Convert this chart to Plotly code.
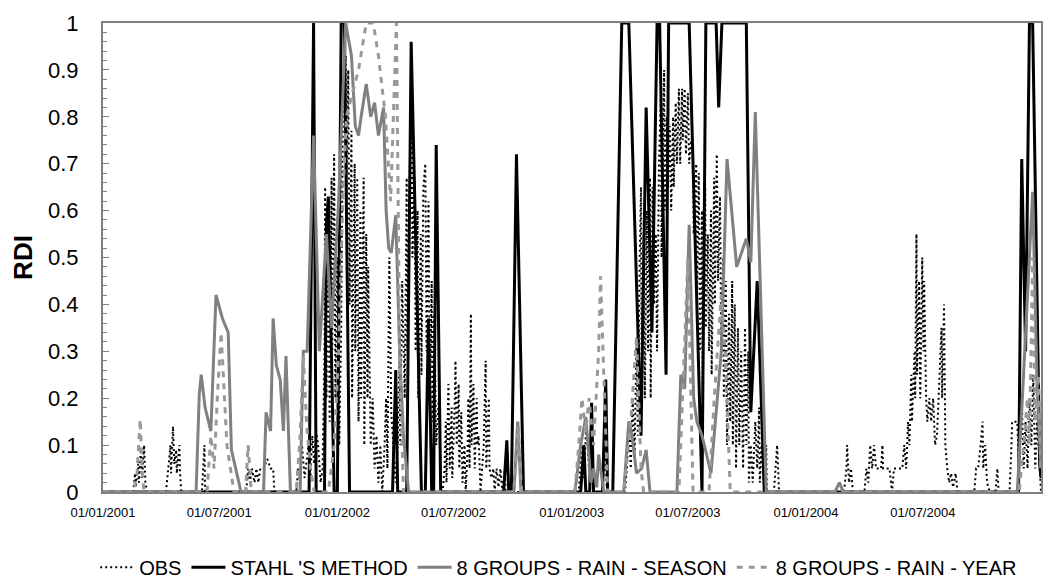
import pandas as pd
import plotly.graph_objects as go

START = "2001-01-01"

# ---- data: day offsets from START and RDI values ----
obs_day = [0, 47, 50, 51, 55, 56, 59, 61, 64, 66, 69,
           98, 101, 105, 106, 109, 111, 114, 115, 119, 120, 122,
           154, 158, 159,
           223, 226, 229, 232, 236, 239, 242, 245, 250, 256, 261, 265, 267,
           301, 304, 307, 310, 314, 317, 320, 323, 326, 329, 332, 335, 339, 342,
           345, 346, 348, 351, 353, 356, 357, 360, 362, 365, 368, 371, 374, 378,
           379, 382, 384, 387, 388, 392, 393, 396, 398, 401, 402, 406, 407, 410,
           412, 413, 417, 420, 423, 426, 429, 432, 435, 438, 441, 443, 446, 449,
           452, 456, 459, 462, 463, 466, 470, 473, 474, 477, 480, 482, 485, 487,
           490, 491, 495, 496, 499, 502, 504, 507, 509, 512, 513, 516, 519, 523,
           526, 529, 532, 534, 535, 538, 540, 543, 544, 548, 549, 551, 554, 555,
           558, 560, 563, 565, 568, 569, 571, 573, 574, 577, 579, 582, 583, 585,
           588, 593, 596, 597, 601, 602, 605, 608, 610, 613, 616, 619, 622, 626, 627,
           741, 746, 749, 753, 757, 761, 764, 778, 782, 785,
           813, 816, 819, 822, 825, 828, 831, 833, 836, 838, 839, 842, 844, 847,
           849, 852, 853, 856, 858, 861, 863, 866, 869, 870, 874, 875, 878, 880,
           883, 885, 888, 889, 892, 894, 897, 899, 902, 903, 906, 908, 911, 913,
           916, 919, 920, 924, 925, 928, 930, 933, 934, 938, 939, 942, 944, 947,
           948, 952, 953, 956, 958, 961, 963, 966, 967, 970, 972, 975, 977, 980,
           981, 984, 986, 989, 991, 994, 997, 1000, 1002, 1005, 1006, 1009, 1012,
           1016, 1019, 1022, 1023, 1026, 1030, 1033, 1034, 1045, 1050, 1053,
           1154, 1158, 1159, 1162, 1165, 1168,
           1186, 1189, 1192, 1195, 1198, 1201, 1204, 1212, 1214, 1215, 1225, 1229,
           1232, 1245, 1248, 1251, 1254, 1256, 1259, 1260, 1264, 1265, 1267, 1268,
           1271, 1273, 1276, 1278, 1279, 1282, 1284, 1287, 1290, 1293, 1296, 1299,
           1303, 1306, 1307, 1310, 1312, 1315, 1318, 1321, 1324, 1328, 1331,
           1357, 1360, 1363, 1367, 1370, 1371, 1374, 1377, 1381, 1390, 1393, 1395,
           1412, 1415, 1416, 1424, 1427, 1431, 1434, 1437, 1440, 1443, 1446, 1449,
           1452, 1455, 1459, 1461]
obs_val = [0, 0, 0.04, 0.01, 0.06, 0.02, 0.09, 0.03, 0.1, 0.02, 0,
           0, 0.04, 0.1, 0.04, 0.14, 0.06, 0.09, 0.04, 0.1, 0.04, 0,
           0, 0.1, 0,
           0, 0.05, 0.02, 0.05, 0.02, 0.05, 0.02, 0.05, 0.05, 0.07, 0.05, 0.05, 0,
           0, 0.05, 0.02, 0.1, 0.03, 0.06, 0.1, 0.03, 0.12, 0.06, 0.13, 0.1, 0.02, 0.05,
           0.3, 0.65, 0.2, 0.55, 0.15, 0.67, 0.3, 0.72, 0.2, 0.5, 0.1, 0.35, 0.85, 0.93,
           0.6, 0.9, 0.4, 0.77, 0.2, 0.7, 0.3, 0.67, 0.15, 0.6, 0.2, 0.67, 0.1, 0.55,
           0.2, 0.48, 0.1, 0.2, 0.05, 0.12, 0.02, 0.1, 0, 0.08, 0.2, 0.05, 0.5, 0.17,
           0.1, 0.02, 0.1, 0.3, 0.1, 0.45, 0.2, 0.67, 0.3, 0.6, 0.9, 0.5, 0.67, 0.3,
           0.6, 0.2, 0.55, 0.25, 0.65, 0.7, 0.3, 0.62, 0.2, 0.45, 0.15, 0.38, 0.1, 0.2,
           0.02, 0, 0.05, 0.15, 0.02, 0.23, 0.05, 0.18, 0.03, 0.2, 0.28, 0.1, 0.23, 0.05,
           0.17, 0.02, 0.1, 0, 0.1, 0.2, 0.05, 0.38, 0.1, 0.23, 0.05, 0.2, 0.1, 0.12,
           0, 0.1, 0.28, 0.05, 0.2, 0.05, 0.03, 0.05, 0, 0.05, 0.01, 0.05, 0, 0.05, 0,
           0, 0.1, 0.03, 0.15, 0.05, 0.1, 0, 0, 0.1, 0,
           0, 0.05, 0.15, 0.05, 0.2, 0.08, 0.33, 0.12, 0.5, 0.65, 0.25, 0.55, 0.2, 0.6,
           0.3, 0.67, 0.2, 0.65, 0.4, 0.55, 0.3, 0.7, 0.85, 0.5, 0.9, 0.6, 0.8, 0.65,
           0.78, 0.6, 0.8, 0.65, 0.83, 0.7, 0.86, 0.7, 0.86, 0.75, 0.86, 0.72, 0.85, 0.7,
           0.75, 0.72, 0.55, 0.7, 0.4, 0.68, 0.3, 0.6, 0.2, 0.65, 0.35, 0.55, 0.3, 0.6,
           0.25, 0.67, 0.4, 0.72, 0.45, 0.63, 0.3, 0.5, 0.2, 0.45, 0.1, 0.38, 0.15, 0.45,
           0.1, 0.4, 0.05, 0.35, 0.1, 0.3, 0.05, 0.35, 0.1, 0.3, 0.02, 0.1, 0.02,
           0.15, 0.05, 0.18, 0.02, 0.1, 0, 0.1, 0, 0, 0.1, 0,
           0, 0.05, 0.1, 0.02, 0.05, 0,
           0, 0.05, 0.02, 0.1, 0.05, 0.1, 0.05, 0.05, 0.1, 0.05, 0.05, 0,
           0.05, 0.05, 0.1, 0.05, 0.15, 0.1, 0.25, 0.15, 0.3, 0.2, 0.55, 0.25,
           0.45, 0.2, 0.5, 0.3, 0.45, 0.2, 0.15, 0.2, 0.15, 0.2, 0.1, 0.12,
           0.25, 0.35, 0.2, 0.4, 0.1, 0.05, 0.02, 0.04, 0.01, 0.04, 0,
           0, 0.05, 0.05, 0.1, 0.15, 0.05, 0.1, 0.02, 0, 0, 0.05, 0,
           0, 0.1, 0.15, 0.15, 0.05, 0.2, 0.05, 0.15, 0.05, 0.2, 0.1, 0.25,
           0.05, 0.15, 0.03, 0]

stahl_day = [0, 321, 328, 332, 345, 348, 351, 356, 360, 365, 371, 376, 384,
             451, 456, 459, 473, 480, 496, 502, 507, 512, 515, 519, 526,
             624, 629, 632, 636, 644, 655,
             744, 749, 752, 758, 761, 764, 778, 783, 786,
             794, 808, 819, 838, 846, 855, 863, 867, 877, 881, 913, 933, 939, 955,
             959, 964, 1002, 1009, 1019, 1030,
             1426, 1431, 1437, 1443, 1448, 1459, 1461]
stahl_val = [0, 0, 1, 0, 0, 0.57, 0.63, 0.3, 0, 0, 1, 1, 0,
             0, 0.26, 0, 0, 0.96, 0, 0, 0.37, 0, 0, 0.74, 0,
             0, 0.11, 0, 0, 0.72, 0,
             0, 0.1, 0, 0, 0.19, 0, 0, 0.24, 0,
             0, 1, 1, 0.12, 0.82, 0.34, 1, 1, 0.25, 1, 1, 0, 1, 1,
             0.82, 1, 1, 0.17, 0.45, 0,
             0, 0.71, 0.3, 1, 1, 0.06, 0.03]

season_day = [0, 145, 150, 153, 159, 168, 176, 186, 195, 200, 215,
              250, 254, 261, 265, 270, 276, 281, 285, 292,
              307, 312, 318, 328, 337, 348, 356, 367, 378, 387, 393, 398, 402,
              410, 417, 423, 429, 437, 441, 445, 449, 456, 462, 468, 476,
              640, 646, 651,
              735, 744, 752, 760, 764, 769, 772, 780,
              811, 819, 824, 831, 839, 846, 852,
              894, 900, 906, 913, 920, 925, 933, 947, 963, 972, 987, 1002, 1009,
              1016, 1033,
              1140, 1147, 1153,
              1424, 1432, 1448, 1455, 1461]
season_val = [0, 0, 0.21, 0.25, 0.18, 0.13, 0.42, 0.37, 0.34, 0.09, 0,
              0, 0.17, 0.13, 0.37, 0.27, 0.24, 0.13, 0.29, 0,
              0, 0.3, 0.3, 0.76, 0.3, 0.55, 0.35, 0.62, 1.0, 0.93, 0.78, 0.76, 0.8,
              0.87, 0.8, 0.83, 0.76, 0.82, 0.6, 0.52, 0.51, 0.59, 0.3, 0.12, 0,
              0, 0.15, 0,
              0, 0.1, 0.16, 0.02, 0.05, 0.01, 0.08, 0,
              0, 0.15, 0.12, 0.04, 0.05, 0.09, 0,
              0, 0.25, 0.22, 0.57, 0.2, 0.15, 0.12, 0.04, 0.3, 0.71, 0.48, 0.54, 0.49,
              0.81, 0,
              0, 0.02, 0,
              0, 0.2, 0.64, 0.22, 0.05]

year_day = [0, 48, 53, 58, 61, 64,
            162, 168, 173, 178, 184, 189, 193, 204,
            222, 226, 231,
            301, 307, 312, 317, 323, 329,
            351, 360, 367, 373, 379, 388, 398, 410, 421, 429, 440, 448, 457, 462, 468,
            640, 647, 652,
            735, 741, 746, 752, 757, 764, 772, 775, 780, 786,
            811, 822, 831, 838, 842,
            897, 911, 919,
            944, 952, 963, 969, 977,
            1427, 1434, 1440, 1443, 1448, 1452, 1457, 1461]
year_val = [0, 0, 0.04, 0.155, 0.04, 0,
            0, 0.12, 0.05, 0.2, 0.34, 0.2, 0.1, 0,
            0, 0.1, 0,
            0, 0.12, 0.29, 0.15, 0.05, 0,
            0, 0.1, 0.3, 0.6, 0.8, 0.85, 0.9, 1.0, 1.0, 0.93, 0.8, 0.62, 1.0, 0.3, 0,
            0, 0.14, 0,
            0, 0.1, 0.2, 0.13, 0.2, 0.1, 0.3, 0.46, 0.25, 0,
            0, 0.15, 0.33, 0.05, 0,
            0, 0.5, 0,
            0, 0.2, 0.42, 0.3, 0,
            0, 0.1, 0.2, 0.1, 0.5, 0.15, 0.25, 0.05]

tick_dates = ["2001-01-01", "2001-07-01", "2002-01-01", "2002-07-01",
              "2003-01-01", "2003-07-01", "2004-01-01", "2004-07-01"]
tick_labels = ["01/01/2001", "01/07/2001", "01/01/2002", "01/07/2002",
               "01/01/2003", "01/07/2003", "01/01/2004", "01/07/2004"]

names = ["OBS", "STAHL 'S METHOD", "8 GROUPS - RAIN - SEASON", "8 GROUPS - RAIN - YEAR"]


def to_dates(days):
    return pd.Timestamp(START) + pd.to_timedelta(days, unit="D")


fig = go.Figure()
fig.add_trace(go.Scatter(x=to_dates(obs_day), y=obs_val, mode="lines", name=names[0],
                         line=dict(color="black", width=2, dash="2px,3px")))
fig.add_trace(go.Scatter(x=to_dates(stahl_day), y=stahl_val, mode="lines", name=names[1],
                         line=dict(color="black", width=3)))
fig.add_trace(go.Scatter(x=to_dates(season_day), y=season_val, mode="lines", name=names[2],
                         line=dict(color="#808080", width=3)))
fig.add_trace(go.Scatter(x=to_dates(year_day), y=year_val, mode="lines", name=names[3],
                         line=dict(color="#999999", width=3, dash="6px,6px")))

font = "Liberation Sans, Arial, sans-serif"
fig.update_layout(
    width=1057, height=588,
    margin=dict(l=95, r=24, t=15, b=104, autoexpand=False),
    paper_bgcolor="white", plot_bgcolor="white",
    font=dict(family=font, color="black"),
    showlegend=True,
    legend=dict(orientation="h", xref="container", yref="container",
                x=0.521, xanchor="center", y=0.049, yanchor="middle",
                font=dict(size=20, family=font, color="black"),
                itemwidth=34,
                bgcolor="rgba(0,0,0,0)"),
    xaxis=dict(type="date", range=["2001-01-01", "2005-01-01"],
               tickvals=tick_dates, ticktext=tick_labels,
               tickfont=dict(size=13, family=font, color="black"),
               showgrid=False, zeroline=False, ticks="",
               showline=True, linecolor="#808080", linewidth=2, mirror=True,
               automargin=False,
               ticklabelstandoff=7),
    yaxis=dict(range=[0, 1], dtick=0.1, tick0=0,
               tickfont=dict(size=22, family=font, color="black"),
               showgrid=False, zeroline=False,
               ticks="inside", ticklen=6, tickcolor="#808080", tickwidth=1,
               minor=dict(dtick=0.02, ticks="inside", ticklen=4, tickcolor="#808080"),
               showline=True, linecolor="#808080", linewidth=2, mirror=True,
               automargin=False,
               ticklabelstandoff=18,
               title=dict(text="<b>RDI</b>", font=dict(size=26, family=font, color="black"),
                          standoff=10)),
)

fig.write_html("out.html")
